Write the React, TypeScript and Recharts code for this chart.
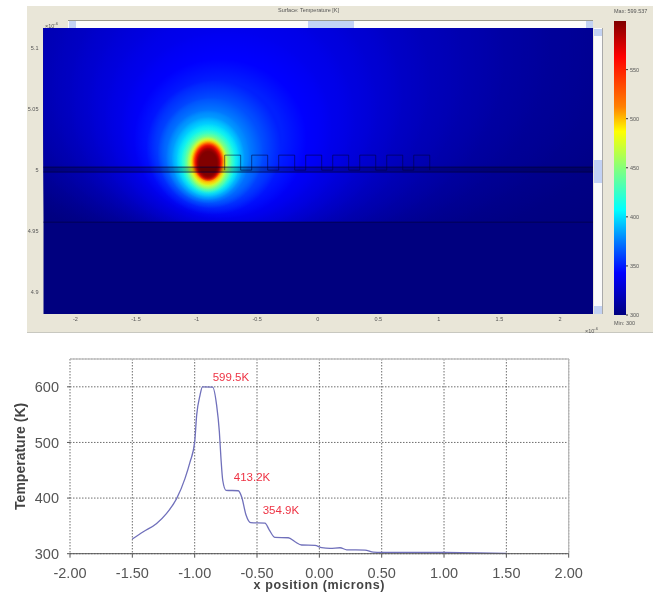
import { Bar, BarChart, CartesianGrid, ComposedChart, Line, LineChart, ReferenceArea, ReferenceDot, ReferenceLine, XAxis, YAxis } from "recharts"

// lower plot: temperature along the surface
const xPosition = [
  -1.5, -1.412, -1.305, -1.225, -1.144, -1.078, -1.037, -1, -0.984, -0.957, -0.938, -0.856, -0.824, -0.802, -0.789,
  -0.775, -0.749, -0.65, -0.623, -0.588, -0.551, -0.436, -0.401, -0.356, -0.249, -0.195, -0.142, -0.035, 0.019, 0.086,
  0.166, 0.22, 0.366, 0.433, 0.5, 1, 1.27, 1.5,
]
const temperature = [
  326.3, 339.5, 354.5, 372.5, 399.4, 435, 465, 501, 549, 585, 600, 599.5, 567, 519, 471, 432, 414, 413.2, 402, 369.5,
  355.7, 354.9, 342.5, 329.3, 328.7, 321.5, 315.6, 315, 310.8, 309.6, 310.7, 307, 306.6, 303, 302.4, 302.2, 301.6, 300.5,
]
const xTicks = [-2, -1.5, -1, -0.5, 0, 0.5, 1, 1.5, 2]
const tempTicks = [300, 400, 500, 600]
const calloutText = ["599.5K", "413.2K", "354.9K"]
const calloutX = [-0.709, -0.54, -0.308]
const calloutY = [617, 438, 378.6]

// upper map: isotherms, outermost first
const isoTemp = [304, 307, 310, 314, 318, 321, 326, 330, 334, 338, 343, 351, 363, 376, 388, 400, 417, 438, 456, 478, 490, 506, 525, 551, 570, 585, 599]
const isoLeft = [-3.369, -3.121, -2.874, -2.626, -2.378, -2.172, -2.007, -1.866, -1.734, -1.618, -1.511, -1.42, -1.338, -1.263, -1.206, -1.164, -1.131, -1.098, -1.074, -1.057, -1.04, -1.032, -1.024, -1.016, -1.008, -1, -0.991]
const isoRight = [3.32, 2.494, 1.998, 1.585, 1.255, 0.966, 0.718, 0.512, 0.33, 0.165, 0, -0.19, -0.38, -0.512, -0.611, -0.644, -0.677, -0.71, -0.735, -0.76, -0.768, -0.776, -0.784, -0.793, -0.801, -0.809, -0.818]
const isoTop = [5.336, 5.303, 5.279, 5.254, 5.23, 5.205, 5.185, 5.164, 5.144, 5.125, 5.103, 5.082, 5.066, 5.053, 5.044, 5.039, 5.034, 5.03, 5.027, 5.025, 5.024, 5.023, 5.022, 5.021, 5.02, 5.019, 5.017]
const isoBottom = [4.946, 4.948, 4.949, 4.951, 4.952, 4.954, 4.956, 4.957, 4.959, 4.962, 4.966, 4.969, 4.971, 4.975, 4.978, 4.98, 4.982, 4.984, 4.985, 4.987, 4.989, 4.99, 4.992, 4.993, 4.993, 4.993, 4.994]
const mapXTicks = [-2, -1.5, -1, -0.5, 0, 0.5, 1, 1.5, 2]
const mapYTicks = [4.9, 4.95, 5, 5.05, 5.1]

// metal comb on the surface
const toothLeft = [-0.768, -0.545, -0.322, -0.099, 0.124, 0.347, 0.57, 0.793]
const toothRight = [-0.636, -0.413, -0.19, 0.033, 0.256, 0.479, 0.702, 0.925]
const combBase = 5
const combTop = 5.0123

const barCategory = ["Temperature"]
const barMax = [599.537]
const barTicks = [300, 350, 400, 450, 500, 550]
const barValues = [300, 343, 376, 407, 448, 487, 512, 563, 599.5]
const barColors = ["#00007f", "#0000ff", "#0080ff", "#00ffff", "#80ff80", "#ffff00", "#ff8000", "#ff0000", "#7f0000"]

const curve = xPosition.map((x, i) => ({ x, temp: temperature[i] }))
const comb = toothLeft.flatMap((left, i) => [
  { x: left, y: combBase },
  { x: left, y: combTop },
  { x: toothRight[i], y: combTop },
  { x: toothRight[i], y: combBase },
])
const barData = barCategory.map((name, i) => ({ name, max: barMax[i] }))

const channels = (hex: string) => [1, 3, 5].map((p) => parseInt(hex.slice(p, p + 2), 16))

function jet(t: number) {
  let i = 0
  while (i < barValues.length - 2 && t > barValues[i + 1]) i++
  const f = Math.min(1, (t - barValues[i]) / (barValues[i + 1] - barValues[i]))
  const a = channels(barColors[i])
  const b = channels(barColors[i + 1])
  return `rgb(${a.map((c, k) => Math.round(c + (b[k] - c) * f)).join(",")})`
}

// each ring fades out at its rim, so it is drawn a bit wider than the isotherm it stands for
function Isotherm(props: any) {
  const { x, y, width, height, fill } = props
  return (
    <g clipPath="url(#mapClip)">
      <ellipse cx={x + width / 2} cy={y + height / 2} rx={Math.abs(width) * 0.58} ry={Math.abs(height) * 0.58} fill={fill} />
    </g>
  )
}

const panelText = { position: "absolute", fontSize: 5.5, color: "#555", whiteSpace: "nowrap", lineHeight: 1 } as const

function Scrollbars() {
  return (
    <>
      <div style={{ position: "absolute", left: 68, top: 20, width: 525, height: 8, background: "#fbfbfb", borderTop: "1px solid #99998c", boxSizing: "border-box" }} />
      <div style={{ position: "absolute", left: 69, top: 21, width: 7, height: 7, background: "#c3d2f2" }} />
      <div style={{ position: "absolute", left: 308, top: 21, width: 46, height: 7, background: "#c3d2f5" }} />
      <div style={{ position: "absolute", left: 586, top: 21, width: 7, height: 7, background: "#c3d2f2" }} />
      <div style={{ position: "absolute", left: 594, top: 28, width: 9, height: 286, background: "#fbfbfb", borderRight: "1px solid #aaa", boxSizing: "border-box" }} />
      <div style={{ position: "absolute", left: 594, top: 29, width: 8, height: 7, background: "#c3d2f2" }} />
      <div style={{ position: "absolute", left: 594, top: 160, width: 8, height: 23, background: "#c3d2f5" }} />
      <div style={{ position: "absolute", left: 594, top: 306, width: 8, height: 8, background: "#c3d2f2" }} />
    </>
  )
}

export default function App() {
  return (
    <div style={{ position: "absolute", left: 0, top: 0, width: 657, height: 592, background: "#fff", overflow: "hidden", filter: "blur(0.45px)", fontFamily: "'Liberation Sans', Arial, sans-serif" }}>
      <div style={{ position: "absolute", left: 27, top: 6, width: 626, height: 327, background: "#e9e6d8", borderBottom: "1px solid #c8c8c0", boxSizing: "border-box" }} />
      <div style={{ ...panelText, left: 278, top: 8 }}>Surface: Temperature [K]</div>
      <div style={{ ...panelText, left: 614, top: 9 }}>Max: 599.537</div>
      <div style={{ ...panelText, left: 614, top: 321 }}>Min: 300</div>
      <div style={{ ...panelText, left: 45, top: 22 }}>×10<sup style={{ fontSize: 4 }}>-6</sup></div>
      <div style={{ ...panelText, left: 585, top: 327 }}>×10<sup style={{ fontSize: 4 }}>-6</sup></div>
      <Scrollbars />

      <div style={{ position: "absolute", left: 0, top: 0 }}>
        <ComposedChart width={657} height={340} data={comb} margin={{ top: 28, right: 64, bottom: 14, left: 23.5 }}>
          <defs>
            {/* the glow stops at the oxide line, below it the map is flat */}
            <clipPath id="mapClip">
              <rect x={43.5} y={28} width={549.5} height={194} />
            </clipPath>
            {isoTemp.map((t) => (
              <radialGradient key={t} id={`iso${t}`}>
                <stop offset={0.72} stopColor={jet(t)} stopOpacity={1} />
                <stop offset={1} stopColor={jet(t)} stopOpacity={0} />
              </radialGradient>
            ))}
          </defs>
          <XAxis
            type="number"
            dataKey="x"
            domain={[-2.264, 2.273]}
            ticks={mapXTicks}
            allowDataOverflow
            height={12}
            tickLine={false}
            axisLine={false}
            tick={{ fontSize: 5.5, fill: "#555", dy: -5 }}
            tickFormatter={(v) => String(v)}
            interval={0}
          />
          <YAxis
            type="number"
            domain={[4.8822, 5.1164]}
            ticks={mapYTicks}
            allowDataOverflow
            width={20}
            tickLine={false}
            axisLine={false}
            tick={{ fontSize: 5.5, fill: "#555", dx: 3 }}
            tickFormatter={(v) => String(v)}
            interval={0}
          />
          <ReferenceArea x1={-2.264} x2={2.273} y1={4.8822} y2={5.1164} fill="#00007f" fillOpacity={1} stroke="none" />
          {isoTemp.map((t, i) => (
            <ReferenceArea
              key={t}
              x1={isoLeft[i]}
              x2={isoRight[i]}
              y1={isoBottom[i]}
              y2={isoTop[i]}
              fill={`url(#iso${t})`}
              ifOverflow="visible"
              shape={Isotherm}
            />
          ))}
          <ReferenceArea x1={-2.264} x2={2.273} y1={4.9984} y2={5.0025} fill="#000" fillOpacity={0.22} stroke="none" />
          <ReferenceLine y={5.0025} stroke="#00003a" strokeOpacity={0.7} />
          <ReferenceLine y={4.9984} stroke="#00003a" strokeOpacity={0.7} />
          <ReferenceLine y={4.9574} stroke="#00004a" strokeOpacity={0.8} />
          <Line dataKey="y" type="linear" stroke="#00003a" strokeOpacity={0.55} strokeWidth={1} dot={false} isAnimationActive={false} />
        </ComposedChart>
      </div>

      <div style={{ position: "absolute", left: 590, top: 0 }}>
        <BarChart width={60} height={340} data={barData} barCategoryGap={0} margin={{ top: 21, right: 14, bottom: 25, left: 24 }}>
          <defs>
            <linearGradient id="jetBar" x1="0" y1="1" x2="0" y2="0">
              {barValues.map((v, i) => (
                <stop key={v} offset={(v - 300) / 299.5} stopColor={barColors[i]} />
              ))}
            </linearGradient>
          </defs>
          <XAxis dataKey="name" hide />
          <YAxis
            type="number"
            orientation="right"
            domain={[300, 599.537]}
            ticks={barTicks}
            width={10}
            tickSize={2}
            tickLine={{ stroke: "#333" }}
            axisLine={false}
            tick={{ fontSize: 5.5, fill: "#555" }}
            interval={0}
          />
          <Bar dataKey="max" fill="url(#jetBar)" isAnimationActive={false} />
        </BarChart>
      </div>

      <div style={{ position: "absolute", left: 0, top: 340 }}>
        <LineChart width={657} height={252} data={curve} margin={{ top: 19, right: 88.3, bottom: 8.3, left: 30 }}>
          <CartesianGrid stroke="#555" strokeDasharray="1.5 1.5" strokeOpacity={0.85} />
          <XAxis
            type="number"
            dataKey="x"
            domain={[-2, 2]}
            ticks={xTicks}
            height={30}
            interval={0}
            tickSize={4}
            tickMargin={10}
            stroke="#555"
            tick={{ fontSize: 14.5, fill: "#555" }}
            tickFormatter={(v) => Number(v).toFixed(2)}
            label={{ value: "x position (microns)", position: "insideBottom", offset: -5, fontSize: 12.5, fontWeight: 700, fill: "#444", letterSpacing: 0.6 }}
          />
          <YAxis
            type="number"
            domain={[300, 650]}
            ticks={tempTicks}
            width={40}
            interval={0}
            tickSize={3}
            tickMargin={8}
            axisLine={false}
            stroke="#555"
            tick={{ fontSize: 14.5, fill: "#555" }}
            label={{ value: "Temperature (K)", angle: -90, position: "insideLeft", offset: -10, textAnchor: "middle", fontSize: 14, fontWeight: 700, fill: "#444" }}
          />
          <ReferenceLine y={650} stroke="#c4c4c4" strokeWidth={1.5} />
          <ReferenceLine x={2} stroke="#b8b8b8" strokeWidth={1.2} />
          <Line dataKey="temp" type="monotone" stroke="#7070bb" strokeWidth={1.3} dot={false} isAnimationActive={false} />
          {calloutText.map((text, i) => (
            <ReferenceDot
              key={text}
              x={calloutX[i]}
              y={calloutY[i]}
              r={0}
              fill="none"
              stroke="none"
              label={{ value: text, position: "center", fontSize: 11.5, fill: "#ee3344" }}
            />
          ))}
        </LineChart>
      </div>
    </div>
  )
}
